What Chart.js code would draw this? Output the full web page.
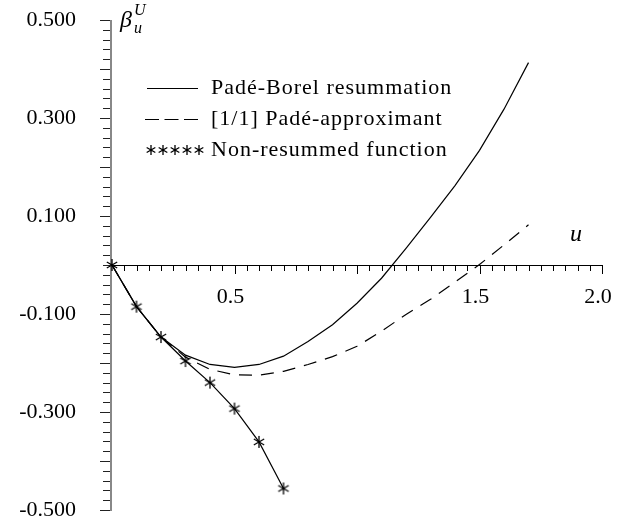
<!DOCTYPE html>
<html>
<head>
<meta charset="utf-8">
<script src="https://cdn.jsdelivr.net/npm/chart.js@4"></script>
<style>
  body { margin: 0; background: #fff; }
  canvas { display: block; }
</style>
</head>
<body>
<canvas id="chart" width="626" height="522"></canvas>
<script>
// values
const u_values = [0, 0.1, 0.2, 0.3, 0.4, 0.5, 0.6, 0.7, 0.8, 0.9, 1.0, 1.1, 1.2, 1.3, 1.4, 1.5, 1.6, 1.7];
const pade_borel = [0, -0.085, -0.147, -0.184, -0.203, -0.209, -0.203, -0.186, -0.156, -0.122, -0.078, -0.027, 0.034, 0.097, 0.162, 0.234, 0.318, 0.413];
const pade_11 = [0, -0.085, -0.147, -0.188, -0.213, -0.224, -0.225, -0.217, -0.203, -0.187, -0.166, -0.135, -0.101, -0.070, -0.035, 0.001, 0.041, 0.082];
const u_series = [0, 0.1, 0.2, 0.3, 0.4, 0.5, 0.6, 0.7];
const non_resummed = [0, -0.085, -0.147, -0.196, -0.240, -0.293, -0.361, -0.456];

const x_label_values = [0.5, 1.5, 2.0];
const x_tick_labels = ['0.5', '1.5', '2.0'];
const y_label_values = [0.5, 0.3, 0.1, -0.1, -0.3, -0.5];
const y_tick_labels = ['0.500', '0.300', '0.100', '-0.100', '-0.300', '-0.500'];
const legend_labels = ['Padé-Borel resummation', '[1/1] Padé-approximant', 'Non-resummed function'];

const FONT = '"Liberation Serif", "Times New Roman", serif';

// six armed asterisk used as point marker
const make_star = (r) => {
    const c = document.createElement('canvas');
    c.width = 2 * r + 2;
    c.height = 2 * r + 2;
    const g = c.getContext('2d');
    const m = r + 1;
    g.strokeStyle = '#000';
    g.lineWidth = 1.3;
    g.beginPath();
    [90, 30, 150].forEach(a => {
        const dx = Math.cos(a * Math.PI / 180) * r, dy = Math.sin(a * Math.PI / 180) * r;
        g.moveTo(m - dx, m - dy);
        g.lineTo(m + dx, m + dy);
    });
    g.stroke();
    return c;
}
const star = make_star(6);
const small_star = make_star(5);

const to_points = (xs, ys) => xs.map((x, i) => ({ x: x, y: ys[i] }));

const axes_plugin = {
    id: 'axes',
    beforeDatasetsDraw(chart) {
        const ctx = chart.ctx;
        const xs = chart.scales.x, ys = chart.scales.y;
        const x0 = Math.round(xs.getPixelForValue(0));
        const y0 = Math.round(ys.getPixelForValue(0));
        ctx.save();

        // x axis with ticks every 0.05
        ctx.strokeStyle = '#000';
        ctx.lineWidth = 1;
        ctx.beginPath();
        ctx.moveTo(x0, y0 + 0.5);
        ctx.lineTo(Math.round(xs.getPixelForValue(2)) + 1, y0 + 0.5);
        for (let i = 1; i <= 40; i++) {
            const px = Math.round(xs.getPixelForValue(i * 0.05)) + 0.5;
            const len = i % 10 === 0 ? 9 : 6;
            ctx.moveTo(px, y0);
            ctx.lineTo(px, y0 + len);
        }
        ctx.stroke();

        // y axis with ticks every 0.02
        ctx.strokeStyle = '#222';
        ctx.beginPath();
        for (let i = 0; i <= 50; i++) {
            const v = 0.5 - i * 0.02;
            const py = Math.round(ys.getPixelForValue(v)) + 0.5;
            const len = (i % 10 === 0 || i % 10 === 5) && i !== 25 ? 10 : 7;
            ctx.moveTo(x0 - 2 - len, py);
            ctx.lineTo(x0, py);
        }
        ctx.stroke();
        ctx.strokeStyle = '#888';
        ctx.lineWidth = 2;
        ctx.beginPath();
        ctx.moveTo(x0 - 1, Math.round(ys.getPixelForValue(0.5)));
        ctx.lineTo(x0 - 1, Math.round(ys.getPixelForValue(-0.5)) + 1);
        ctx.stroke();

        // tick labels
        ctx.fillStyle = '#000';
        ctx.font = '22px ' + FONT;
        ctx.textBaseline = 'middle';
        ctx.textAlign = 'center';
        x_label_values.forEach((v, i) => {
            ctx.fillText(x_tick_labels[i], xs.getPixelForValue(v) - 4, y0 + 32);
        });
        ctx.textAlign = 'right';
        y_label_values.forEach((v, i) => {
            ctx.fillText(y_tick_labels[i], 76, ys.getPixelForValue(v));
        });
        ctx.restore();
    },
    afterDraw(chart) {
        const ctx = chart.ctx;
        ctx.save();
        ctx.fillStyle = '#000';
        ctx.strokeStyle = '#000';
        ctx.lineWidth = 1.1;

        // axis titles
        ctx.textAlign = 'left';
        ctx.textBaseline = 'alphabetic';
        ctx.font = 'italic 24px ' + FONT;
        ctx.fillText('β', 120, 27);
        ctx.font = 'italic 16px ' + FONT;
        ctx.fillText('U', 134, 15);
        ctx.fillText('u', 134, 33);
        ctx.font = 'italic 24px ' + FONT;
        ctx.fillText('u', 570, 241);

        // legend
        const rows = [88, 119, 150];
        ctx.beginPath();
        ctx.moveTo(147, rows[0] + 0.5);
        ctx.lineTo(198, rows[0] + 0.5);
        ctx.stroke();
        ctx.setLineDash([14, 5.5]);
        ctx.beginPath();
        ctx.moveTo(145, rows[1] + 0.5);
        ctx.lineTo(198, rows[1] + 0.5);
        ctx.stroke();
        ctx.setLineDash([]);
        for (let k = 0; k < 5; k++) {
            ctx.drawImage(small_star, 145 + k * 12, rows[2] - 6);
        }
        ctx.font = '22px ' + FONT;
        ctx.letterSpacing = '1px';
        ctx.textBaseline = 'middle';
        legend_labels.forEach((t, i) => ctx.fillText(t, 211, rows[i]));
        ctx.restore();
    }
};

const ctx = document.getElementById('chart').getContext('2d');
const chart = new Chart(ctx, {
    type: 'scatter',
    data: {
        datasets: [{
            label: legend_labels[0],
            data: to_points(u_values, pade_borel),
            showLine: true,
            borderColor: '#000',
            borderWidth: 1.2,
            pointRadius: 0,
            tension: 0,
            clip: false
        }, {
            label: legend_labels[1],
            data: to_points(u_values, pade_11),
            showLine: true,
            borderColor: '#000',
            borderWidth: 1.2,
            borderDash: [13, 9],
            pointRadius: 0,
            tension: 0,
            clip: false
        }, {
            label: legend_labels[2],
            data: to_points(u_series, non_resummed),
            showLine: true,
            borderColor: '#000',
            borderWidth: 1.2,
            pointStyle: star,
            pointRadius: 6,
            tension: 0,
            clip: false
        }]
    },
    options: {
        responsive: false,
        animation: false,
        layout: { padding: { left: 112, right: 24, top: 20, bottom: 12 } },
        scales: {
            x: { type: 'linear', min: 0, max: 2, display: false },
            y: { type: 'linear', min: -0.5, max: 0.5, display: false }
        },
        plugins: {
            legend: { display: false },
            tooltip: { enabled: false }
        }
    },
    plugins: [axes_plugin]
});
</script>
</body>
</html>
